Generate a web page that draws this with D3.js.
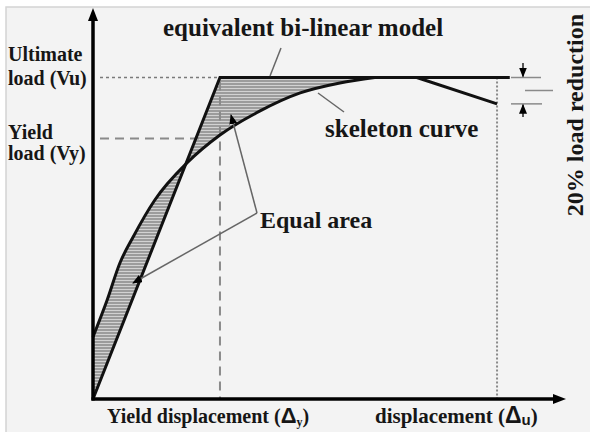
<!DOCTYPE html>
<html lang="en">
  <head>
    <meta charset="utf-8">
    <title>Bi-linear model</title>
    <script src="https://d3js.org/d3.v7.min.js"></script>
    <style>
      body { margin: 0; background: #fff; }
      text { font-family: "Liberation Serif", "Times New Roman", serif; font-weight: bold; fill: #161616; }
      .sym { font-family: "Liberation Sans", Arial, sans-serif; }
    </style>
  </head>
  <body>
    <svg id="chart" width="590" height="432"></svg>
<script>

// skeleton curve (displacement, load)
var skelX = [0, 3.0, 5.7, 8.5, 13.1, 19.9, 26.9, 35.4, 43.9, 52.3, 59.7, 68.6, 85.6];
var skelY = [19.3, 30.8, 42.3, 50.4, 61.9, 73.4, 82.1, 89.6, 95.2, 98.3, 100, 100, 91.8];

// equivalent bi-linear model
var biX = [0, 26.9, 88.3];
var biY = [0, 100, 100];

var Vu = 100, Vy = 81;       // ultimate / yield load
var dY = 26.9, dU = 85.6;    // yield / ultimate displacement
var peakX = 59.7;

var svg = d3.select("#chart");

var x = d3.scaleLinear().domain([0, 100]).range([93, 565]);
var y = d3.scaleLinear().domain([0, 121]).range([399, 10]);

// background + frame
svg.append("rect").attr("x", 6).attr("y", 7).attr("width", 584).attr("height", 425).attr("fill", "#f3f3f3");
svg.append("path").attr("d", "M6,432V7H590").attr("fill", "none").attr("stroke", "#d4d4d4").attr("stroke-width", 1.5);

var defs = svg.append("defs");

// hatch pattern
var pat = defs.append("pattern").attr("id", "hatch").attr("patternUnits", "userSpaceOnUse")
  .attr("width", 6).attr("height", 3);
pat.append("rect").attr("width", 6).attr("height", 3).attr("fill", "#9c9c9c");
pat.append("rect").attr("y", 1).attr("width", 6).attr("height", 1).attr("fill", "#d2d2d2");

// arrow marker
defs.append("marker").attr("id", "arr").attr("markerUnits", "userSpaceOnUse")
  .attr("viewBox", "0 0 10 8").attr("refX", 9).attr("refY", 4)
  .attr("markerWidth", 10).attr("markerHeight", 8).attr("orient", "auto")
  .append("path").attr("d", "M0,0L10,4L0,8Z").attr("fill", "#000");

var skel = skelX.map(function (d, i) { return [d, skelY[i]]; });
var rising = skel.filter(function (d) { return d[0] <= peakX; });
var falling = skel.filter(function (d) { return d[0] >= peakX; });
var bi = biX.map(function (d, i) { return [d, biY[i]]; });

var line = d3.line().x(function (d) { return x(d[0]); }).y(function (d) { return y(d[1]); });
var curveLine = d3.line().x(function (d) { return x(d[0]); }).y(function (d) { return y(d[1]); }).curve(d3.curveMonotoneX);

var underCurve = d3.area().x(function (d) { return x(d[0]); })
  .y0(y(0)).y1(function (d) { return y(d[1]); }).curve(d3.curveMonotoneX);
var aboveCurve = d3.area().x(function (d) { return x(d[0]); })
  .y0(function (d) { return y(d[1]); }).y1(y(121)).curve(d3.curveMonotoneX);

// clip: above the bi-linear line
defs.append("clipPath").attr("id", "aboveBi").append("path")
  .attr("d", line([[0, 0], [dY, Vu], [100, Vu], [100, 121], [0, 121]]) + "Z");
// clip: above the skeleton curve
defs.append("clipPath").attr("id", "aboveSk").append("path")
  .attr("d", aboveCurve(rising));

// equal areas
svg.append("path").attr("d", underCurve(rising)).attr("fill", "url(#hatch)").attr("clip-path", "url(#aboveBi)");
svg.append("path").attr("d", line([[0, 0], [dY, Vu], [peakX, Vu], [peakX, 0]]) + "Z")
  .attr("fill", "url(#hatch)").attr("clip-path", "url(#aboveSk)");

// guide lines
svg.append("line").attr("x1", 100).attr("x2", x(dY)).attr("y1", y(Vu)).attr("y2", y(Vu))
  .attr("stroke", "#7a7a7a").attr("stroke-width", 1.5).attr("stroke-dasharray", "3,3");
svg.append("line").attr("x1", 100).attr("x2", 201).attr("y1", y(Vy)).attr("y2", y(Vy))
  .attr("stroke", "#8a8a8a").attr("stroke-width", 2).attr("stroke-dasharray", "9,6");
svg.append("line").attr("x1", x(dY)).attr("x2", x(dY)).attr("y1", y(Vu) + 4).attr("y2", y(0))
  .attr("stroke", "#8a8a8a").attr("stroke-width", 2).attr("stroke-dasharray", "9,6");
svg.append("line").attr("x1", x(dU)).attr("x2", x(dU)).attr("y1", y(Vu)).attr("y2", y(0))
  .attr("stroke", "#8a8a8a").attr("stroke-width", 2).attr("stroke-dasharray", "2,2");

// curves
svg.append("path").attr("d", curveLine(rising) + line(falling).replace("M", "L"))
  .attr("fill", "none").attr("stroke", "#111").attr("stroke-width", 3).attr("stroke-linejoin", "round");
svg.append("path").attr("d", line(bi)).attr("fill", "none").attr("stroke", "#111").attr("stroke-width", 3);

// axes
svg.append("line").attr("x1", x(0)).attr("x2", x(0)).attr("y1", y(0) + 1.5).attr("y2", 20)
  .attr("stroke", "#000").attr("stroke-width", 3.5);
svg.append("path").attr("d", "M" + x(0) + ",8L" + (x(0) - 5) + ",21L" + (x(0) + 5) + ",21Z").attr("fill", "#000");
svg.append("line").attr("x1", x(0) - 1.5).attr("x2", 553).attr("y1", y(0)).attr("y2", y(0))
  .attr("stroke", "#000").attr("stroke-width", 3.5);
svg.append("path").attr("d", "M566," + y(0) + "L553," + (y(0) - 5) + "L553," + (y(0) + 5) + "Z").attr("fill", "#000");

// leader lines
var lead = svg.append("g").attr("stroke", "#666").attr("stroke-width", 1.5).attr("fill", "none");
lead.append("line").attr("x1", 270).attr("y1", 76).attr("x2", 281).attr("y2", 48);
lead.append("line").attr("x1", 318).attr("y1", 93).attr("x2", 344).attr("y2", 112);
lead.append("line").attr("x1", 257).attr("y1", 213).attr("x2", 231).attr("y2", 115).attr("marker-end", "url(#arr)");
lead.append("line").attr("x1", 257).attr("y1", 213).attr("x2", 133).attr("y2", 283).attr("marker-end", "url(#arr)");

// 20% load reduction marks
var lastY = y(skelY[skelY.length - 1]);
var red = svg.append("g").attr("stroke", "#8a8a8a").attr("stroke-width", 1.5);
red.append("line").attr("x1", 511).attr("x2", 541).attr("y1", y(Vu)).attr("y2", y(Vu));
red.append("line").attr("x1", 525).attr("x2", 553).attr("y1", 90.5).attr("y2", 90.5);
red.append("line").attr("x1", 511).attr("x2", 542).attr("y1", lastY).attr("y2", lastY);
red.append("line").attr("x1", 523).attr("x2", 523).attr("y1", 63).attr("y2", y(Vu) - 1)
  .attr("stroke", "#222").attr("marker-end", "url(#arr)");
red.append("line").attr("x1", 523).attr("x2", 523).attr("y1", 117).attr("y2", lastY + 1)
  .attr("stroke", "#222").attr("marker-end", "url(#arr)");

// labels
function label(tx, ty, str, size) {
  return svg.append("text").attr("x", tx).attr("y", ty).attr("font-size", size).text(str);
}
label(8, 61, "Ultimate", 20);
label(8, 85, "load (Vu)", 20);
label(8, 139, "Yield", 20);
label(8, 160, "load (Vy)", 20);
label(163, 36, "equivalent bi-linear model", 25);
label(325, 137, "skeleton curve", 25);
label(260, 228, "Equal area", 24);

svg.append("text").attr("font-size", 24).attr("text-anchor", "middle")
  .attr("transform", "translate(583,115) rotate(-90)").text("20% load reduction");

var t1 = svg.append("text").attr("x", 107).attr("y", 423).attr("font-size", 20);
t1.append("tspan").text("Yield displacement (");
t1.append("tspan").attr("class", "sym").attr("font-size", 22).text("\u0394");
t1.append("tspan").attr("font-size", 12).attr("dy", 3).text("y");
t1.append("tspan").attr("dy", -3).text(")");

var t2 = svg.append("text").attr("x", 375).attr("y", 423).attr("font-size", 21);
t2.append("tspan").text("displacement (");
t2.append("tspan").attr("class", "sym").attr("font-size", 23).text("\u0394");
t2.append("tspan").attr("class", "sym").attr("font-size", 15).attr("dy", 2).text("u");
t2.append("tspan").attr("dy", -2).text(")");

</script>
  </body>
</html>
